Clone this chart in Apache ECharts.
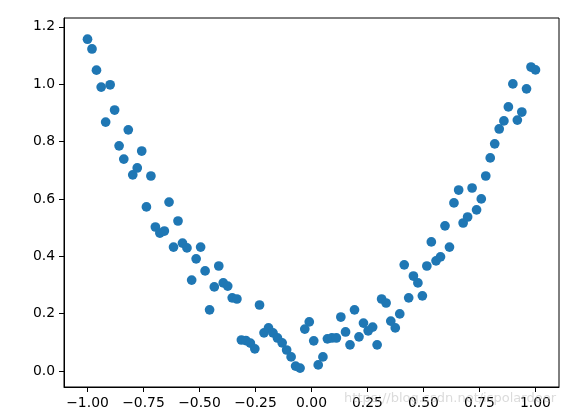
<!DOCTYPE html>
<html>
<head>
<meta charset="utf-8">
<script src="https://cdn.jsdelivr.net/npm/echarts@6/dist/echarts.min.js"></script>
<style>html,body{margin:0;padding:0;background:#fff;}#chart{width:568px;height:417px;}</style>
</head>
<body>
<div id="chart"></div>
<script>
const xValues = [
  -1.000, -0.980, -0.960, -0.939, -0.919, -0.899, -0.879, -0.859, -0.838, -0.818,
  -0.798, -0.778, -0.758, -0.737, -0.717, -0.697, -0.677, -0.657, -0.636, -0.616,
  -0.596, -0.576, -0.556, -0.535, -0.515, -0.495, -0.475, -0.455, -0.434, -0.414,
  -0.394, -0.374, -0.354, -0.333, -0.313, -0.293, -0.273, -0.253, -0.232, -0.212,
  -0.192, -0.172, -0.152, -0.131, -0.111, -0.091, -0.071, -0.051, -0.030, -0.010,
   0.010,  0.030,  0.051,  0.071,  0.091,  0.111,  0.131,  0.152,  0.172,  0.192,
   0.212,  0.232,  0.253,  0.273,  0.293,  0.313,  0.333,  0.354,  0.374,  0.394,
   0.414,  0.434,  0.455,  0.475,  0.495,  0.515,  0.535,  0.556,  0.576,  0.596,
   0.616,  0.636,  0.657,  0.677,  0.697,  0.717,  0.737,  0.758,  0.778,  0.798,
   0.818,  0.838,  0.859,  0.879,  0.899,  0.919,  0.939,  0.960,  0.980,  1.000
];
const yValues = [
  1.157, 1.123, 1.049, 0.990, 0.868, 0.998, 0.910, 0.785, 0.739, 0.841,
  0.684, 0.708, 0.767, 0.572, 0.680, 0.502, 0.481, 0.488, 0.589, 0.432,
  0.523, 0.446, 0.429, 0.317, 0.391, 0.432, 0.349, 0.213, 0.293, 0.366,
  0.307, 0.296, 0.255, 0.251, 0.108, 0.106, 0.097, 0.077, 0.230, 0.133,
  0.150, 0.133, 0.115, 0.098, 0.073, 0.049, 0.017, 0.010, 0.146, 0.171,
  0.105, 0.021, 0.049, 0.112, 0.115, 0.115, 0.188, 0.136, 0.091, 0.213,
  0.119, 0.167, 0.140, 0.153, 0.091, 0.251, 0.237, 0.174, 0.150, 0.199,
  0.370, 0.255, 0.331, 0.307, 0.262, 0.366, 0.450, 0.384, 0.398, 0.506,
  0.432, 0.586, 0.631, 0.516, 0.537, 0.638, 0.562, 0.600, 0.680, 0.743,
  0.792, 0.844, 0.872, 0.921, 1.001, 0.875, 0.903, 0.984, 1.060, 1.050
];
const xTicks = [-1.00, -0.75, -0.50, -0.25, 0.00, 0.25, 0.50, 0.75, 1.00];
const yTicks = [0.0, 0.2, 0.4, 0.6, 0.8, 1.0, 1.2];

const points = xValues.map((x, i) => [x, yValues[i]]);
const fmt = (v, d) => {
  const s = Math.abs(v).toFixed(d);
  return (v < -1e-9 ? '\u2212' : '') + s;
};
const font = 'DejaVu Sans';

const chart = echarts.init(document.getElementById('chart'), null, {renderer: 'canvas'});
chart.setOption({
  animation: false,
  backgroundColor: '#ffffff',
  grid: {left: 64, right: 9, top: 18, bottom: 30, show: true, borderColor: '#000', borderWidth: 1, backgroundColor: 'transparent'},
  xAxis: {
    type: 'value', min: -1.105, max: 1.105,
    axisLine: {show: true, onZero: false, lineStyle: {color: '#000', width: 1}},
    axisTick: {show: true, inside: false, length: 5, customValues: xTicks, lineStyle: {color: '#000', width: 1}},
    axisLabel: {show: true, margin: 9, customValues: xTicks, formatter: v => fmt(v, 2), color: '#000', fontFamily: font, fontSize: 13.9},
    splitLine: {show: false}
  },
  yAxis: {
    type: 'value', min: -0.056, max: 1.231,
    axisLine: {show: true, onZero: false, lineStyle: {color: '#000', width: 1}},
    axisTick: {show: true, inside: false, length: 5, customValues: yTicks, lineStyle: {color: '#000', width: 1}},
    axisLabel: {show: true, margin: 9, customValues: yTicks, formatter: v => fmt(v, 1), color: '#000', fontFamily: font, fontSize: 13.9},
    splitLine: {show: false}
  },
  series: [{
    type: 'scatter',
    data: points,
    symbol: 'circle',
    symbolSize: 9.7,
    itemStyle: {color: '#1f77b4', opacity: 1},
    silent: true
  }],
  graphic: [{
    type: 'text', right: 12, top: 392,
    style: {text: 'https://blog.csdn.net/ispolardeer', fill: 'rgba(190,190,190,0.55)', font: '13px "DejaVu Sans"'},
    silent: true, z: 100
  }]
});
</script>
</body>
</html>
